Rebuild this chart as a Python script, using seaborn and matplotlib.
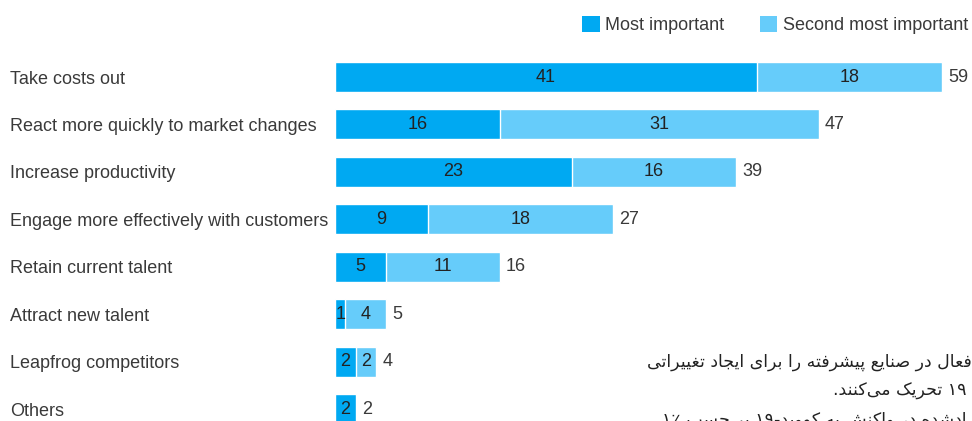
import re
import unicodedata
import matplotlib
matplotlib.use("Agg")
import matplotlib.pyplot as plt
from matplotlib.patches import Patch
import seaborn as sns
import pandas as pd

# ---------------- data ----------------
categories = [
    "Take costs out",
    "React more quickly to market changes",
    "Increase productivity",
    "Engage more effectively with customers",
    "Retain current talent",
    "Attract new talent",
    "Leapfrog competitors",
    "Others",
]
most_important = [41, 16, 23, 9, 5, 1, 2, 2]
second_important = [18, 31, 16, 18, 11, 4, 2, 0]
totals = [59, 47, 39, 27, 16, 5, 4, 2]
legend_labels = ["Most important", "Second most important"]

fa_lines = [
    "فعال در صنایع پیشرفته را برای ایجاد تغییراتی",
    "۱۹ تحریک می‌کنند.",
    "ادشده در واکنش به کووید-۱۹ بر حسب ٪۱",
]

# ---------------- simple Persian shaping ----------------
_forms = {}
for cp in list(range(0xFB50, 0xFE00)) + list(range(0xFE70, 0xFF00)):
    d = unicodedata.decomposition(chr(cp))
    if not d:
        continue
    parts = d.split()
    if len(parts) == 2 and parts[0] in ("<isolated>", "<final>", "<initial>", "<medial>"):
        _forms.setdefault((chr(int(parts[1], 16)), parts[0][1:-1]), chr(cp))

RIGHT_ONLY = set("اآأإدذرزژوؤة")


def _is_letter(c):
    return ("\u0620" <= c <= "\u06FF" and not ("\u0660" <= c <= "\u066D")
            and not ("\u06F0" <= c <= "\u06F9") and c not in "،؛؟")


def _dual(c):
    return _is_letter(c) and c not in RIGHT_ONLY


def shape(s):
    out = []
    for i, c in enumerate(s):
        if not _is_letter(c):
            out.append(c)
            continue
        prev = s[i - 1] if i > 0 else ""
        nxt = s[i + 1] if i + 1 < len(s) else ""
        jp = bool(prev) and _dual(prev)
        jn = _dual(c) and bool(nxt) and _is_letter(nxt)
        form = "medial" if jp and jn else "final" if jp else "initial" if jn else "isolated"
        out.append(_forms.get((c, form), _forms.get((c, "isolated"), c)))
    vis = "".join(out).replace("\u200c", "")[::-1]
    return re.sub(r"[0-9۰-۹]+", lambda m: m.group(0)[::-1], vis)


# ---------------- styling ----------------
sns.set_theme(style="white")
plt.rcParams["font.family"] = ["Liberation Sans", "DejaVu Sans"]

DARK = "#00A9F2"
LIGHT = "#66CCFA"
TEXT = "#3a3a3a"
FS = 13

W, H = 972, 421
fig = plt.figure(figsize=(W / 100, H / 100), dpi=100)

ax_left = 335 / W
ax = fig.add_axes([ax_left, 0, 1 - ax_left, 1])

df = pd.DataFrame({"category": categories, "most": most_important,
                   "second": second_important, "total": totals})

bar_h = 30 / 47.43
sns.barplot(data=df, x="total", y="category", orient="h", color=LIGHT,
            saturation=1, width=bar_h, edgecolor="white", linewidth=1, ax=ax)
sns.barplot(data=df, x="most", y="category", orient="h", color=DARK,
            saturation=1, width=bar_h, edgecolor="white", linewidth=1, ax=ax)

px_per_unit = 422 / 41
ax.set_xlim(0, (W - 335) / px_per_unit)
ax.set_ylim((H - 77) / 47.43, -77 / 47.43)

for i, (m, s, t) in enumerate(zip(most_important, second_important, totals)):
    ax.text(m / 2, i, str(m), ha="center", va="center", fontsize=FS, color="#222222")
    if s > 0:
        ax.text(m + s / 2, i, str(s), ha="center", va="center", fontsize=FS, color="#222222")
    ax.text(t + 0.6, i, str(t), ha="left", va="center", fontsize=FS, color=TEXT)

ax.set_xlabel("")
ax.set_ylabel("")
ax.set_xticks([])
ax.tick_params(axis="y", length=0, pad=(335 - 10) * 0.72)
for lab in ax.get_yticklabels():
    lab.set_ha("left")
    lab.set_fontsize(FS)
    lab.set_color(TEXT)
sns.despine(ax=ax, left=True, bottom=True)
ax.patch.set_alpha(0)

handles = [Patch(facecolor=DARK, edgecolor="none"), Patch(facecolor=LIGHT, edgecolor="none")]
fig.legend(handles, legend_labels, loc="center right",
           bbox_to_anchor=(968 / W, 1 - 25 / H), ncol=2, frameon=False,
           fontsize=FS, handlelength=0.95, handleheight=0.95, handletextpad=0.3,
           columnspacing=2.0, borderpad=0, borderaxespad=0, labelcolor=TEXT)

fa_pos = [(647, 362), (833, 391), (662, 420)]
for line, (x, y) in zip(fa_lines, fa_pos):
    fig.text(x / W, 1 - y / H, shape(line), ha="left", va="center", fontsize=12.5,
             color="#222222", family=["DejaVu Sans"])

fig.savefig("out.png", dpi=100)
